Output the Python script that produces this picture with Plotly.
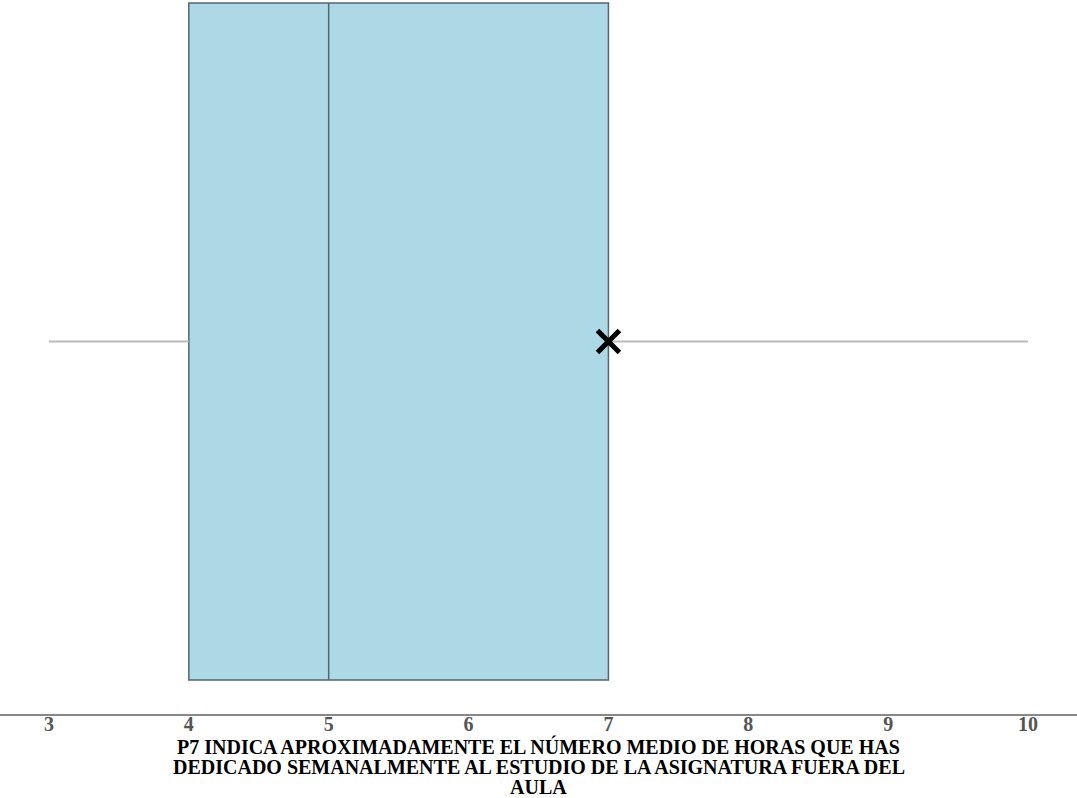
import plotly.graph_objects as go

# Data (hours per week)
stat_min = [3]
stat_q1 = [4]
stat_median = [5]
stat_q3 = [7]
stat_max = [10]
stat_mean = [7]
tick_vals = [3, 4, 5, 6, 7, 8, 9, 10]
tick_text = ["3", "4", "5", "6", "7", "8", "9", "10"]
title_lines = ["P7 INDICA APROXIMADAMENTE EL NÚMERO MEDIO DE HORAS QUE HAS",
               "DEDICADO SEMANALMENTE AL ESTUDIO DE LA ASIGNATURA FUERA DEL",
               "AULA"]

fig = go.Figure()

# whiskers
fig.add_trace(go.Scatter(
    x=[stat_min[0], stat_q1[0], None, stat_q3[0], stat_max[0]],
    y=[0, 0, None, 0, 0],
    mode="lines", line=dict(color="#bbbbbb", width=2),
    hoverinfo="skip", showlegend=False))

# box
fig.add_trace(go.Box(
    q1=stat_q1, median=stat_median, q3=stat_q3,
    lowerfence=stat_q1, upperfence=stat_q3,
    y=[0], orientation="h", width=0.948,
    fillcolor="#ADD8E6", line=dict(color="#56666c", width=1.5),
    whiskerwidth=0, showlegend=False))

# mean marker
fig.add_trace(go.Scatter(
    x=stat_mean, y=[0], mode="markers",
    marker=dict(symbol="x-thin", size=22, line=dict(color="black", width=5)),
    showlegend=False))

plot_h = 714
line_centers_px = [746, 767, 787]
for txt, py in zip(title_lines, line_centers_px):
    fig.add_annotation(
        text=txt, xref="paper", yref="paper", x=0.5, y=(plot_h - py) / plot_h,
        xanchor="center", yanchor="middle", showarrow=False,
        font=dict(family="Liberation Serif", size=20, color="black", weight="bold"))

fig.update_layout(
    width=1077, height=798,
    margin=dict(l=0, r=0, t=0, b=84),
    plot_bgcolor="white", paper_bgcolor="white",
    font=dict(family="Liberation Serif"),
    xaxis=dict(
        range=[2.65, 10.35], tickvals=tick_vals, ticktext=tick_text,
        showgrid=False, zeroline=False, showline=True,
        linecolor="#888888", linewidth=1.5, ticks="",
        ticklabelstandoff=-9,
        tickfont=dict(family="Liberation Serif", size=20, color="#555555", weight="bold"),
    ),
    yaxis=dict(range=[-0.5217, 0.4783], visible=False, showgrid=False, zeroline=False),
)

fig.write_html("out.html", config={"displayModeBar": False},
               post_script="document.body.style.margin='0';")
